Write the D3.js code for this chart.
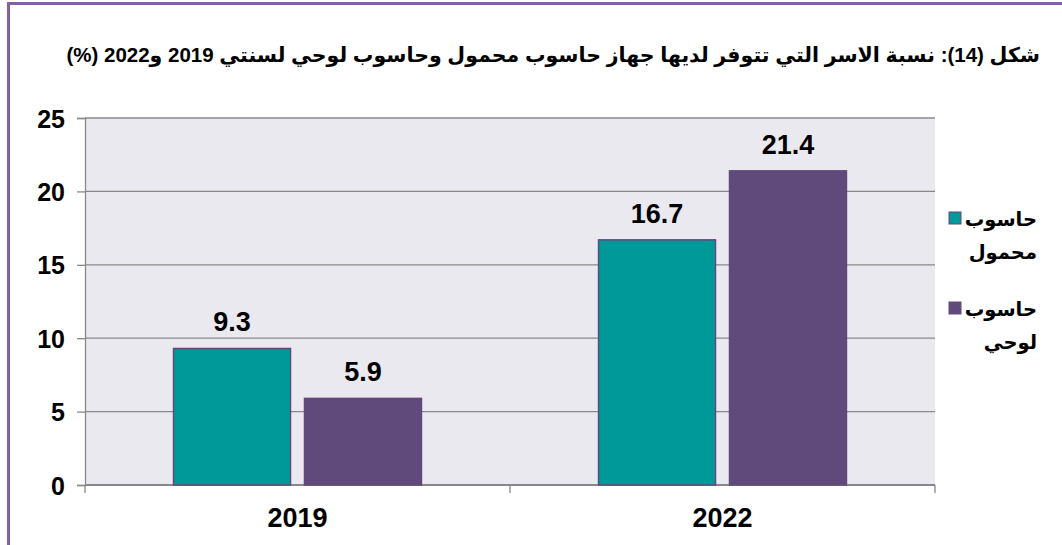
<!DOCTYPE html>
<html>
<head>
<meta charset="utf-8">
<script src="https://cdn.jsdelivr.net/npm/d3@7"></script>
<style>
  body { margin: 0; background: #fff; }
  svg text { font-family: "Liberation Sans", "DejaVu Sans", Arial, sans-serif; font-weight: 700; fill: #000; }
</style>
</head>
<body>
<div id="chart"></div>
<script>
// data
var years = ["2019", "2022"];
var seriesNames = ["حاسوب محمول", "حاسوب لوحي"];
var laptop = [9.3, 16.7];
var tablet = [5.9, 21.4];
var yTicks = [0, 5, 10, 15, 20, 25];
var titleText = "شكل (14): نسبة الاسر التي تتوفر لديها جهاز حاسوب محمول وحاسوب لوحي لسنتي 2019 و2022 (%)";

var colors = ["#009999", "#604A7B"];

var W = 1062, H = 545;
var margin = { top: 118, right: 127, bottom: 60, left: 85 },
  width = W - margin.left - margin.right,
  height = H - margin.top - margin.bottom;

var svg = d3.select("#chart")
  .append("svg")
  .attr("width", W)
  .attr("height", H);

// purple frame (left and top edges visible)
svg.append("line").attr("x1", 8.5).attr("x2", 8.5).attr("y1", 2).attr("y2", H)
  .attr("stroke", "#8064A2").attr("stroke-width", 3);
svg.append("line").attr("x1", 7).attr("x2", W).attr("y1", 3.5).attr("y2", 3.5)
  .attr("stroke", "#8064A2").attr("stroke-width", 3);

// title
svg.append("text")
  .attr("x", 1040)
  .attr("y", 62)
  .attr("direction", "rtl")
  .style("text-anchor", "start")
  .style("font-size", "20.5px")
  .text(titleText);

var g = svg.append("g")
  .attr("transform", "translate(" + margin.left + "," + margin.top + ")");

var x = d3.scaleBand()
  .domain(years)
  .range([0, width])
  .paddingInner(0)
  .paddingOuter(0);

var xInner = d3.scaleBand()
  .domain([0, 1])
  .range([0, x.bandwidth()])
  .paddingInner(0.107)
  .paddingOuter(0.676);

var y = d3.scaleLinear()
  .domain([0, 25])
  .range([height, 0]);

// plot background
g.append("rect")
  .attr("width", width)
  .attr("height", height)
  .attr("fill", "#EBE9F0");

// gridlines
g.selectAll(".grid")
  .data(yTicks.filter(function (d) { return d > 0; }))
  .enter()
  .append("line")
  .attr("x1", 0)
  .attr("x2", width)
  .attr("y1", function (d) { return y(d); })
  .attr("y2", function (d) { return y(d); })
  .attr("stroke", "#888888")
  .attr("stroke-width", 1.3);

// y axis
var yAxis = g.append("g")
  .call(d3.axisLeft(y).tickValues(yTicks).tickSize(8).tickPadding(12));
yAxis.attr("font-family", null).attr("font-size", null);
yAxis.select(".domain").attr("stroke", "#888888").attr("stroke-width", 1.3);
yAxis.selectAll(".tick line").attr("stroke", "#888888").attr("stroke-width", 1.3);
yAxis.selectAll("text")
  .style("font-size", "25px")
  .attr("dy", "0.36em")
  .attr("fill", "#000");

// x axis with boundary ticks
var xAxis = g.append("g")
  .attr("transform", "translate(0," + height + ")");
xAxis.append("line")
  .attr("x1", 0).attr("x2", width)
  .attr("stroke", "#888888").attr("stroke-width", 2);
xAxis.selectAll(".xt")
  .data([0, 1, 2])
  .enter()
  .append("line")
  .attr("x1", function (d) { return d * x.step(); })
  .attr("x2", function (d) { return d * x.step(); })
  .attr("y1", 0).attr("y2", 8)
  .attr("stroke", "#888888").attr("stroke-width", 1.3);
xAxis.selectAll(".xl")
  .data(years)
  .enter()
  .append("text")
  .attr("x", function (d) { return x(d) + x.bandwidth() / 2; })
  .attr("y", 42)
  .style("text-anchor", "middle")
  .style("font-size", "27px")
  .text(function (d) { return d; });

// bars
var groups = g.selectAll(".year")
  .data(years)
  .enter()
  .append("g")
  .attr("transform", function (d) { return "translate(" + x(d) + ",0)"; });

groups.selectAll("rect")
  .data(function (d, i) { return [laptop[i], tablet[i]]; })
  .enter()
  .append("rect")
  .attr("x", function (d, j) { return xInner(j); })
  .attr("y", function (d) { return y(d); })
  .attr("width", xInner.bandwidth())
  .attr("height", function (d) { return height - y(d); })
  .attr("fill", function (d, j) { return colors[j]; })
  .attr("stroke", "#604A7B")
  .attr("stroke-width", 1.5);

groups.selectAll(".lbl")
  .data(function (d, i) { return [laptop[i], tablet[i]]; })
  .enter()
  .append("text")
  .attr("x", function (d, j) { return xInner(j) + xInner.bandwidth() / 2; })
  .attr("y", function (d) { return y(d) - 17; })
  .style("text-anchor", "middle")
  .style("font-size", "27px")
  .text(function (d) { return d.toFixed(1); });

// legend
var legend = svg.append("g");
var legendLines = [["حاسوب", "محمول"], ["حاسوب", "لوحي"]];
var legendY = [212, 302];
seriesNames.forEach(function (name, i) {
  legend.append("rect")
    .attr("x", 949)
    .attr("y", legendY[i])
    .attr("width", 12)
    .attr("height", 12)
    .attr("fill", colors[i])
    .attr("stroke", "#604A7B")
    .attr("stroke-width", 1);
  legendLines[i].forEach(function (ln, k) {
    legend.append("text")
      .attr("x", 1037)
      .attr("y", legendY[i] + 14 + k * 33)
      .attr("direction", "rtl")
      .style("text-anchor", "start")
      .style("font-size", "19.5px")
      .text(ln);
  });
});
</script>
</body>
</html>
